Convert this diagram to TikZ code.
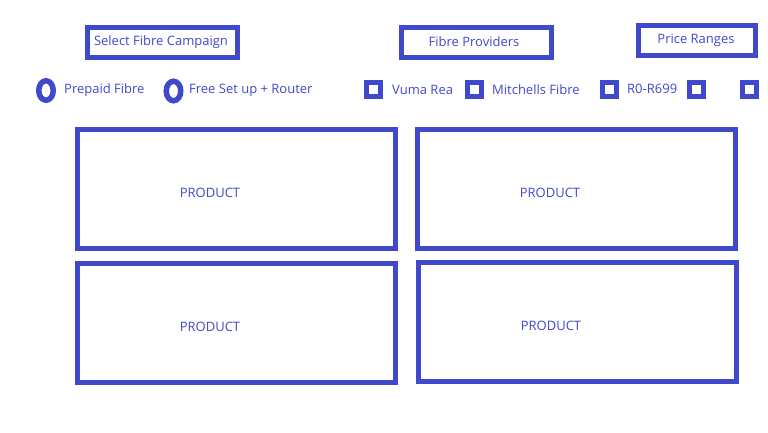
\documentclass[tikz,border=0pt]{standalone}
\usepackage{fontspec}
\setmainfont{Open Sans}
\definecolor{WireBlue}{RGB}{64,72,204}
\usetikzlibrary{shapes.geometric}

\tikzset{
  hdrbox/.style={draw=WireBlue, line width=5pt, minimum width=150pt, minimum height=30pt, inner sep=0pt},
  prodbox/.style={draw=WireBlue, line width=5pt, minimum width=318pt, minimum height=119pt, inner sep=0pt},
  radio/.style={ellipse, draw=WireBlue, line width=5.5pt, minimum width=14.5pt, minimum height=19.5pt, inner sep=0pt},
  tickbox/.style={draw=WireBlue, line width=5pt, minimum size=14pt, inner sep=0pt},
  txt/.style={text=WireBlue, font=\fontsize{13}{15}\selectfont, inner sep=0pt}
}

\begin{document}
\begin{tikzpicture}[x=1pt, y=-1pt]
  \useasboundingbox (0,0) rectangle (768,432);
  %% 1. Filter headings
  \node[hdrbox] (campaign) at (162.5,42.5) {};
  \node[txt] (campaigntxt) at (161,42.5) {Select Fibre Campaign};
  \node[hdrbox] (providers) at (476.5,42.5) {};
  \node[txt] (providerstxt) at (474,42) {Fibre Providers};
  \node[hdrbox, minimum width=117pt] (prices) at (697,40.5) {};
  \node[txt] (pricestxt) at (696,40.5) {Price Ranges};
  %% 2. Campaign options
  \node[radio] (prepaid) at (46,90.5) {};
  \node[txt, anchor=west] (prepaidtxt) at (64,90.5) {Prepaid Fibre};
  \node[radio] (freesetup) at (173.5,91) {};
  \node[txt, anchor=west] (freesetuptxt) at (189,90.5) {Free Set up + Router};
  %% 3. Provider and price check boxes
  \node[tickbox] (vuma) at (373.5,89) {};
  \node[txt, anchor=west] (vumatxt) at (392,89.5) {Vuma Rea};
  \node[tickbox] (mitchells) at (474.5,89) {};
  \node[txt, anchor=west] (mitchellstxt) at (492,89.5) {Mitchells Fibre};
  \node[tickbox] (range1) at (609.5,89.5) {};
  \node[txt, anchor=west] (range1txt) at (627,88.5) {R0-R699};
  \node[tickbox] (range2) at (696.5,89) {};
  \node[tickbox] (range3) at (749.5,89) {};
  %% 4. Product grid
  \node[prodbox] (prodA) at (236.5,189) {};
  \node[txt] at (210,192.5) {PRODUCT};
  \node[prodbox] (prodB) at (576.5,189) {};
  \node[txt] at (550,192.5) {PRODUCT};
  \node[prodbox] (prodC) at (236.5,323) {};
  \node[txt] at (210,326.5) {PRODUCT};
  \node[prodbox] (prodD) at (577.5,322) {};
  \node[txt] at (551,325.5) {PRODUCT};
\end{tikzpicture}
\end{document}
